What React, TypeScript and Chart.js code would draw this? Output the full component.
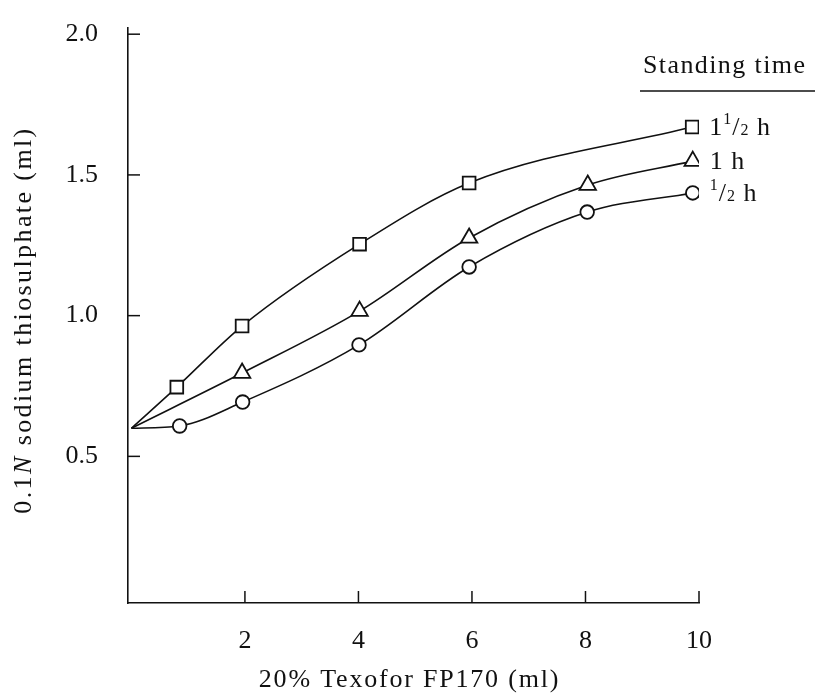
import React, { useEffect, useRef } from 'react';
import { Chart, registerables } from 'chart.js';

Chart.register(...registerables);

// ---- data ----
const xHalfHour = [0, 0.85, 1.96, 4.01, 5.95, 8.03, 9.89];
const yHalfHour = [0.6, 0.608, 0.693, 0.896, 1.173, 1.368, 1.436];
const xOneHour = [0, 1.95, 4.02, 5.95, 8.04, 9.89];
const yOneHour = [0.6, 0.796, 1.016, 1.276, 1.464, 1.549];
const xOneHalfHour = [0, 0.8, 1.95, 4.02, 5.95, 9.88];
const yOneHalfHour = [0.6, 0.746, 0.963, 1.254, 1.471, 1.67];

const xTickValues = [2, 4, 6, 8, 10];
const yTickValues = [0.5, 1.0, 1.5, 2.0];

const legendTitle = 'Standing time';
const xTitle = '20% Texofor FP170 (ml)';
const yTitleParts = ['0.1', 'N', ' sodium thiosulphate (ml)'];
// label pieces: [text, kind] kind: n normal, sup, sub
const labelOneHalf: [string, string][] = [['1', 'n'], ['1', 'sup'], ['/', 'n'], ['2', 'sub'], [' h', 'n']];
const labelOne: [string, string][] = [['1 h', 'n']];
const labelHalf: [string, string][] = [['1', 'sup'], ['/', 'n'], ['2', 'sub'], [' h', 'n']];

const INK = '#111';
const FONT = '"Liberation Serif", "Times New Roman", serif';

function pts(xs: number[], ys: number[]) {
  return xs.map((x, i) => ({ x, y: ys[i] }));
}

function drawPieces(ctx: CanvasRenderingContext2D, pieces: [string, string][], x: number, y: number, size: number) {
  let cx = x;
  for (const [t, kind] of pieces) {
    const s = kind === 'n' ? size : Math.round(size * 0.62);
    ctx.font = `${s}px ${FONT}`;
    let dy = 0;
    if (kind === 'sup') dy = -size * 0.3;
    if (kind === 'sub') dy = size * 0.12;
    ctx.fillText(t, cx, y + dy);
    cx += ctx.measureText(t).width;
  }
}

const decorPlugin = {
  id: 'decor',
  afterDraw(chart: any) {
    const ctx: CanvasRenderingContext2D = chart.ctx;
    const xs = chart.scales.x;
    const ys = chart.scales.y;
    const area = chart.chartArea;
    ctx.save();
    ctx.strokeStyle = INK;
    ctx.fillStyle = INK;
    ctx.lineWidth = 1.5;
    // inward tick marks
    for (const v of xTickValues) {
      const px = xs.getPixelForValue(v);
      ctx.beginPath();
      ctx.moveTo(px, area.bottom);
      ctx.lineTo(px, area.bottom - 12);
      ctx.stroke();
    }
    for (const v of yTickValues) {
      const py = ys.getPixelForValue(v);
      ctx.beginPath();
      ctx.moveTo(area.left, py);
      ctx.lineTo(area.left + 12, py);
      ctx.stroke();
    }
    // x title
    ctx.textBaseline = 'middle';
    ctx.textAlign = 'center';
    ctx.font = `26px ${FONT}`;
    (ctx as any).letterSpacing = '1.8px';
    ctx.fillText(xTitle, (area.left + area.right) / 2 - 4, 680);
    // y title (rotated, with italic N)
    ctx.save();
    ctx.translate(24, 320);
    ctx.rotate(-Math.PI / 2);
    ctx.textAlign = 'left';
    (ctx as any).letterSpacing = '2.4px';
    const fonts = [`26px ${FONT}`, `italic 26px ${FONT}`, `26px ${FONT}`];
    let total = 0;
    yTitleParts.forEach((p, i) => { ctx.font = fonts[i]; total += ctx.measureText(p).width; });
    let cx = -total / 2;
    yTitleParts.forEach((p, i) => { ctx.font = fonts[i]; ctx.fillText(p, cx, 0); cx += ctx.measureText(p).width; });
    ctx.restore();
    // legend header
    (ctx as any).letterSpacing = '1.4px';
    ctx.textAlign = 'left';
    ctx.textBaseline = 'alphabetic';
    ctx.font = `26px ${FONT}`;
    ctx.fillText(legendTitle, 643, 73);
    ctx.beginPath();
    ctx.moveTo(640, 91);
    ctx.lineTo(815, 91);
    ctx.stroke();
    // series labels at the end of each curve
    (ctx as any).letterSpacing = '1px';
    ctx.textBaseline = 'middle';
    const labels = [labelHalf, labelOne, labelOneHalf];
    chart.data.datasets.forEach((ds: any, i: number) => {
      const meta = chart.getDatasetMeta(i);
      const last = meta.data[meta.data.length - 1];
      drawPieces(ctx, labels[i], last.x + 17, last.y + 1, 26);
    });
    ctx.restore();
  },
};

export default function App() {
  const ref = useRef<HTMLCanvasElement>(null);
  useEffect(() => {
    if (!ref.current) return;
    const common = {
      borderColor: INK,
      borderWidth: 1.6,
      pointBackgroundColor: '#fff',
      pointBorderColor: INK,
      pointBorderWidth: 1.8,
      cubicInterpolationMode: 'monotone' as const,
      fill: false,
    };
    const chart = new Chart(ref.current, {
      type: 'line',
      data: {
        datasets: [
          {
            ...common,
            label: '1/2 h',
            data: pts(xHalfHour, yHalfHour),
            pointStyle: 'circle',
            pointRadius: xHalfHour.map((_, i) => (i === 0 ? 0 : 6.8)),
          },
          {
            ...common,
            label: '1 h',
            data: pts(xOneHour, yOneHour),
            pointStyle: 'triangle',
            pointRadius: xOneHour.map((_, i) => (i === 0 ? 0 : 9.5)),
          },
          {
            ...common,
            label: '1 1/2 h',
            data: pts(xOneHalfHour, yOneHalfHour),
            pointStyle: 'rect',
            pointRadius: xOneHalfHour.map((_, i) => (i === 0 ? 0 : 9)),
          },
        ],
      },
      options: {
        responsive: false,
        animation: false,
        devicePixelRatio: 1,
        layout: { padding: { left: 0, top: 28, right: 116, bottom: 0 } },
        plugins: { legend: { display: false }, tooltip: { enabled: false } },
        scales: {
          x: {
            type: 'linear',
            min: -0.06,
            max: 10,
            grid: { display: false, drawTicks: false },
            border: { display: true, color: INK, width: 1.6 },
            ticks: {
              color: INK,
              font: { family: FONT, size: 26 },
              padding: 23,
              maxRotation: 0,
              autoSkip: false,
            },
            afterBuildTicks: (s: any) => { s.ticks = xTickValues.map((v) => ({ value: v })); },
            afterFit: (s: any) => { s.height = 91; s.paddingLeft = 0; s.paddingRight = 0; },
          },
          y: {
            type: 'linear',
            min: -0.021,
            max: 2.022,
            grid: { display: false, drawTicks: false },
            border: { display: true, color: INK, width: 1.6 },
            ticks: {
              color: INK,
              font: { family: FONT, size: 26 },
              padding: 30,
              autoSkip: false,
              callback: (v: any) => Number(v).toFixed(1),
            },
            afterBuildTicks: (s: any) => { s.ticks = yTickValues.map((v) => ({ value: v })); },
            afterFit: (s: any) => { s.width = 128; s.paddingTop = 0; s.paddingBottom = 0; },
          },
        },
      },
      plugins: [decorPlugin],
    });
    return () => chart.destroy();
  }, []);
  return (
    <div style={{ position: 'absolute', left: 0, top: 0, width: 815, height: 694, background: '#fff' }}>
      <canvas ref={ref} width={815} height={694} style={{ display: 'block' }} />
    </div>
  );
}
